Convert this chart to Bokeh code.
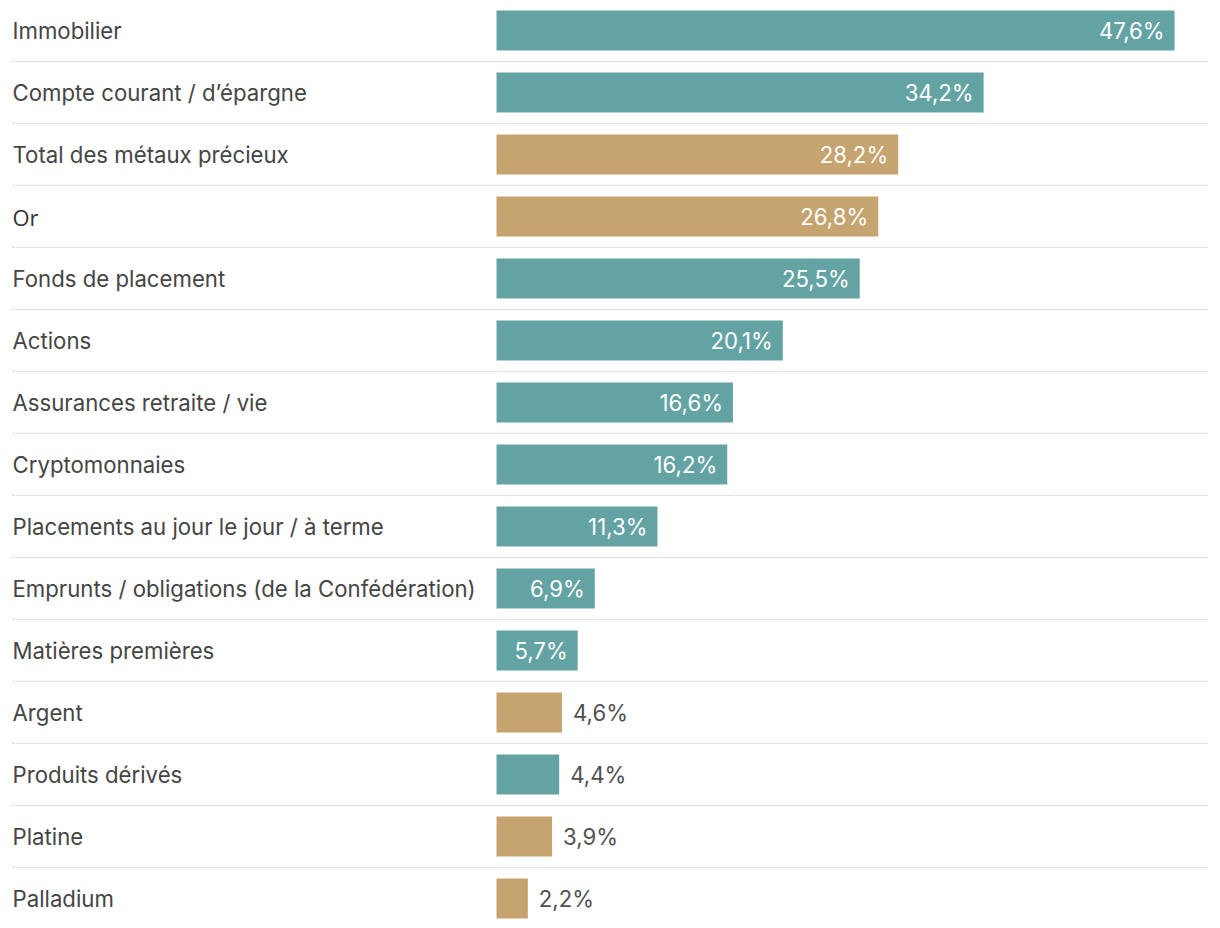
from bokeh.plotting import figure
from bokeh.models import Range1d, ColumnDataSource
from bokeh.core.properties import value
from bokeh.embed import file_html
from bokeh.resources import INLINE

categories = ["Immobilier", "Compte courant / d’épargne", "Total des métaux précieux", "Or",
              "Fonds de placement", "Actions", "Assurances retraite / vie", "Cryptomonnaies",
              "Placements au jour le jour / à terme", "Emprunts / obligations (de la Confédération)",
              "Matières premières", "Argent", "Produits dérivés", "Platine", "Palladium"]
values = [47.6, 34.2, 28.2, 26.8, 25.5, 20.1, 16.6, 16.2, 11.3, 6.9, 5.7, 4.6, 4.4, 3.9, 2.2]
groups = ["fin", "fin", "metal", "metal", "fin", "fin", "fin", "fin", "fin", "fin", "fin",
          "metal", "fin", "metal", "metal"]

TEAL = "#64a3a3"
GOLD = "#c6a470"
W, H = 1212, 920
BAR_X0 = 496          # canvas px where bars start
PX_PER = 678 / 47.6   # px per percent
ROW0 = 30
ROW_H = 62
BAR_H = 40

FONT = "Inter"
FS = "22.2px"

p = figure(width=W, height=H, output_backend="svg", toolbar_location=None,
           min_border=0, outline_line_color=None)
p.x_range = Range1d(-BAR_X0 / PX_PER, (W - BAR_X0) / PX_PER)
p.y_range = Range1d((H - ROW0) / ROW_H, -ROW0 / ROW_H)
p.axis.visible = False
p.grid.visible = False
p.background_fill_color = "white"
p.border_fill_color = "white"

n = len(categories)
ys = list(range(n))
colors = [GOLD if g == "metal" else TEAL for g in groups]

# separators
xs0 = [p.x_range.start + 12 / PX_PER] * (n - 1)
xs1 = [p.x_range.start + 1208 / PX_PER] * (n - 1)
sy = [i + 0.5 for i in range(n - 1)]
p.segment(x0=xs0, x1=xs1, y0=sy, y1=sy, line_color="#c8c8c8", line_width=1, line_dash="2 2")

src = ColumnDataSource(dict(y=ys, v=values, c=colors, cat=categories))
p.hbar(y="y", left=0, right="v", height=BAR_H / ROW_H, fill_color="c", line_color=None, source=src)

# category labels
lab_x = [p.x_range.start] * n
normal_idx = [i for i in range(n) if categories[i] != "Or"]
or_idx = [i for i in range(n) if categories[i] == "Or"]
p.text(x=[lab_x[i] for i in normal_idx], y=[ys[i] for i in normal_idx],
       text=[categories[i] for i in normal_idx], x_offset=12,
       text_font=value(FONT), text_font_size=FS, text_color="#454545",
       text_baseline="middle", text_align="left")
p.text(x=[lab_x[i] for i in or_idx], y=[ys[i] for i in or_idx],
       text=[categories[i] for i in or_idx], x_offset=12,
       text_font=value("Open Sans"), text_font_size="22px", text_color="#333333",
       text_baseline="middle", text_align="left")

# value labels
labels = [f"{v:.1f}".replace(".", ",") + "%" for v in values]
inside = [i for i in range(n) if values[i] >= 5]
outside = [i for i in range(n) if values[i] < 5]
p.text(x=[values[i] for i in inside], y=[ys[i] for i in inside],
       text=[labels[i] for i in inside], x_offset=-10,
       text_font=value(FONT), text_font_size=FS, text_color="white",
       text_baseline="middle", text_align="right")
p.text(x=[values[i] for i in outside], y=[ys[i] for i in outside],
       text=[labels[i] for i in outside], x_offset=11,
       text_font=value(FONT), text_font_size=FS, text_color="#505050",
       text_baseline="middle", text_align="left")

open("out.html", "w").write(file_html(p, INLINE))
